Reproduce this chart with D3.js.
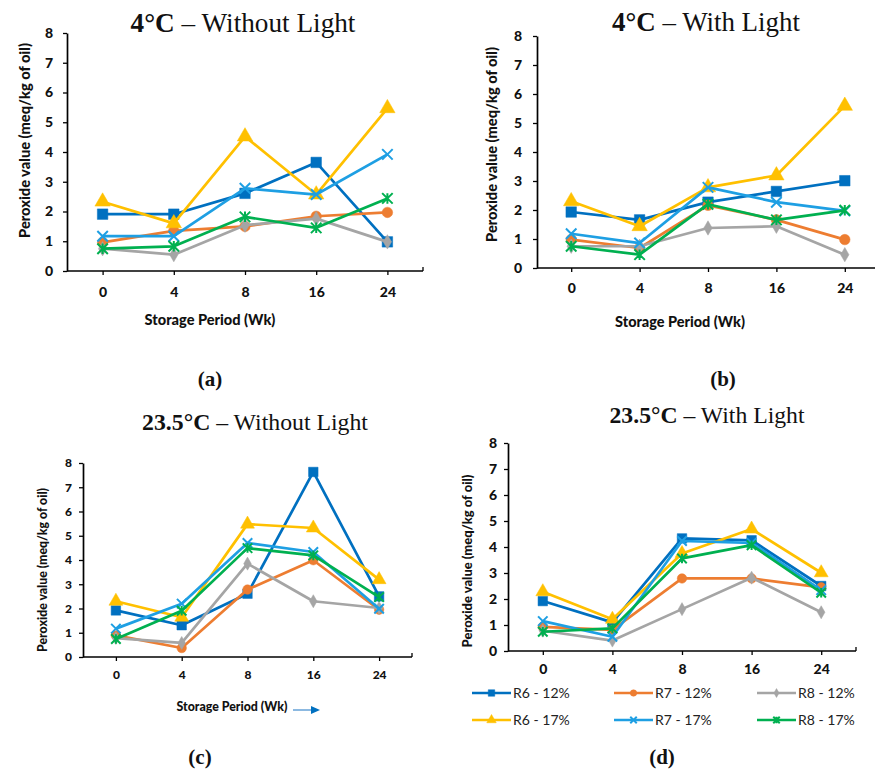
<!DOCTYPE html>
<html>
<head>
<meta charset="utf-8">
<script src="https://cdn.jsdelivr.net/npm/d3@7"></script>
<style>
  html, body { margin: 0; padding: 0; background: #fff; }
  svg { display: block; }
</style>
</head>
<body>
<svg id="chart" width="875" height="770"></svg>
<script>
// ---------------- DATA ----------------
const weeks = ["0", "4", "8", "16", "24"];
const yTicks = [0, 1, 2, 3, 4, 5, 6, 7, 8];
const seriesNames = ["R6 - 12%", "R7 - 12%", "R8 - 12%", "R6 - 17%", "R7 - 17%", "R8 - 17%"];

// Peroxide values (meq/kg of oil), one row per series in seriesNames order
const cold_noLight = [
  [1.91, 1.91, 2.61, 3.65, 0.98],
  [0.96, 1.35, 1.50, 1.84, 1.97],
  [0.75, 0.55, 1.54, 1.76, 0.98],
  [2.33, 1.60, 4.52, 2.57, 5.47],
  [1.17, 1.17, 2.78, 2.57, 3.92],
  [0.75, 0.83, 1.82, 1.45, 2.44]
];
const cold_light = [
  [1.93, 1.66, 2.27, 2.64, 3.01],
  [0.98, 0.69, 2.16, 1.66, 0.98],
  [0.75, 0.75, 1.38, 1.44, 0.46],
  [2.30, 1.44, 2.78, 3.19, 5.59],
  [1.18, 0.86, 2.78, 2.27, 1.97],
  [0.75, 0.46, 2.20, 1.66, 1.99]
];
const warm_noLight = [
  [1.92, 1.31, 2.61, 7.63, 2.50],
  [0.89, 0.37, 2.78, 3.99, 1.95],
  [0.78, 0.58, 3.85, 2.30, 2.02],
  [2.30, 1.64, 5.48, 5.32, 3.19],
  [1.17, 2.20, 4.70, 4.33, 1.99],
  [0.74, 1.91, 4.49, 4.19, 2.47]
];
const warm_light = [
  [1.92, 1.10, 4.33, 4.26, 2.50],
  [0.93, 0.81, 2.79, 2.79, 2.45],
  [0.78, 0.40, 1.61, 2.82, 1.49],
  [2.28, 1.22, 3.75, 4.69, 3.01],
  [1.15, 0.55, 4.23, 4.16, 2.34],
  [0.74, 0.87, 3.56, 4.07, 2.24]
];

const temps = ["4°C", "4°C", "23.5°C", "23.5°C"];
const lightTexts = [" – Without Light", " – With Light", " – Without Light", " – With Light"];
const panelLetters = ["(a)", "(b)", "(c)", "(d)"];
const yTitle = "Peroxide value (meq/kg of oil)";
const xTitle = "Storage Period (Wk)";

// ---------------- STYLE ----------------
const colors = ["#0070C0", "#ED7D31", "#A5A5A5", "#FFC000", "#1E9FE3", "#00B050"];
const markerTypes = ["square", "circle", "diamond", "triangle", "x", "star"];

// ---------------- LAYOUT ----------------
const panels = [
  { data: cold_noLight, left: 67, right: 423, top: 33, bottom: 271,
    titleX: 243, titleY: 32, titleW: 225, letterX: 210, letterY: 386,
    yTitleX: 25, yTitleY: 140.5, yTitleLen: 195,
    xTitleX: 210, xTitleY: 320, xTitleLen: 131,
    tickFont: 14, xLabOff: 21, yLabGap: 10, msize: 1.05 },
  { data: cold_light, left: 537, right: 879, top: 36, bottom: 268,
    titleX: 706, titleY: 31, titleW: 188, letterX: 723, letterY: 386,
    yTitleX: 492, yTitleY: 144.5, yTitleLen: 195,
    xTitleX: 680, xTitleY: 322, xTitleLen: 130,
    tickFont: 14, xLabOff: 20, yLabGap: 11, msize: 1.05 },
  { data: warm_noLight, left: 83, right: 412, top: 463, bottom: 657,
    titleX: 255, titleY: 430, titleW: 226, letterX: 200, letterY: 764,
    yTitleX: 43, yTitleY: 570, yTitleLen: 164,
    xTitleX: 232, xTitleY: 707, xTitleLen: 111,
    tickFont: 12, xLabOff: 18, yLabGap: 7, msize: 0.95, arrow: true },
  { data: warm_light, left: 508, right: 856, top: 443, bottom: 651,
    titleX: 707, titleY: 423, titleW: 195, letterX: 662, letterY: 764,
    yTitleX: 467, yTitleY: 561, yTitleLen: 173,
    xTitleX: null,
    tickFont: 14, xLabOff: 18, yLabGap: 7, msize: 0.95, legend: true }
];

const svg = d3.select("#chart");
const sansFont = "Lato, 'Open Sans', sans-serif";
const serifFont = "'Liberation Serif', 'DejaVu Serif', serif";

// scale a text's font size so it spans a target length
function fitText(sel, target, base) {
  const len = sel.node().getComputedTextLength();
  if (len > 0) sel.attr("font-size", base * target / len);
}

function markerPath(type, s) {
  switch (type) {
    case "square": return d3.symbol(d3.symbolSquare, s * s)();
    case "circle": return d3.symbol(d3.symbolCircle, Math.PI * (s / 2) * (s / 2))();
    case "diamond": return d3.symbol(d3.symbolDiamond, s * s * 0.45)();
    case "triangle": return d3.symbol(d3.symbolTriangle, s * s * 0.55)();
    case "x": { const h = s / 2; return `M${-h},${-h}L${h},${h}M${-h},${h}L${h},${-h}`; }
    case "star": { const h = s / 2; return `M${-h},${-h}L${h},${h}M${-h},${h}L${h},${-h}M0,${-h}L0,${h}`; }
  }
}
const baseSize = { square: 10, circle: 10, diamond: 11, triangle: 13, x: 10, star: 10 };

function drawMarker(g, type, color, x, y, scale) {
  const s = baseSize[type] * scale;
  const stroked = (type === "x" || type === "star");
  g.append("path")
    .attr("d", markerPath(type, s))
    .attr("transform", `translate(${x},${y})`)
    .attr("fill", stroked ? "none" : color)
    .attr("stroke", color)
    .attr("stroke-width", stroked ? 2 : 0.5);
}

panels.forEach((p, pi) => {
  const g = svg.append("g");
  const x = d3.scalePoint().domain(weeks).range([p.left, p.right]).padding(0.5);
  const y = d3.scaleLinear().domain([0, 8]).range([p.bottom, p.top]);

  // Y axis
  const ya = g.append("g")
    .attr("transform", `translate(${p.left},0)`)
    .call(d3.axisLeft(y).tickValues(yTicks).tickFormat(d3.format("d")).tickSize(4).tickSizeOuter(0).tickPadding(p.yLabGap));
  // X axis
  const xa = g.append("g")
    .attr("transform", `translate(0,${p.bottom})`)
    .call(d3.axisBottom(x).tickSize(4).tickSizeOuter(0)
      .tickPadding(p.xLabOff - 0.355 * p.tickFont - 4));
  xa.select(".domain").attr("d", `M${p.left},0H${p.right}`);
  xa.append("line").attr("x1", p.right).attr("x2", p.right).attr("y1", 0).attr("y2", -4)
    .attr("stroke", "#000").attr("stroke-width", 1.3);

  [ya, xa].forEach(a => {
    a.select(".domain").attr("stroke", "#000").attr("stroke-width", 1.7);
    a.selectAll(".tick line").attr("stroke", "#000").attr("stroke-width", 1.3);
    a.selectAll(".tick text").attr("font-family", sansFont).attr("font-weight", 900)
      .attr("font-size", p.tickFont).attr("fill", "#111");
  });

  // Series
  const line = d3.line().x((d, i) => x(weeks[i])).y(d => y(d));
  p.data.forEach((vals, si) => {
    const sg = g.append("g");
    sg.append("path").attr("d", line(vals)).attr("fill", "none")
      .attr("stroke", colors[si]).attr("stroke-width", 2.7).attr("stroke-linejoin", "round");
    vals.forEach((v, i) => drawMarker(sg, markerTypes[si], colors[si], x(weeks[i]), y(v), p.msize));
  });

  // Title
  const t = g.append("text").attr("x", p.titleX).attr("y", p.titleY)
    .attr("text-anchor", "middle").attr("font-family", serifFont).attr("font-size", 26).attr("fill", "#111");
  t.append("tspan").attr("font-weight", 700).text(temps[pi]);
  t.append("tspan").text(lightTexts[pi]);
  fitText(t, p.titleW, 26);

  // Y title
  const yt = g.append("text")
    .attr("transform", `translate(${p.yTitleX},${p.yTitleY}) rotate(-90)`)
    .attr("text-anchor", "middle").attr("dy", "0.35em")
    .attr("font-family", sansFont).attr("font-weight", 900).attr("font-size", 12).attr("fill", "#111")
    .text(yTitle);
  fitText(yt, p.yTitleLen, 12);

  // X title
  if (p.xTitleX !== null) {
    const xt = g.append("text").attr("x", p.xTitleX).attr("y", p.xTitleY)
      .attr("text-anchor", "middle").attr("dy", "0.35em")
      .attr("font-family", sansFont).attr("font-weight", 900).attr("font-size", 12).attr("fill", "#111")
      .text(xTitle);
    fitText(xt, p.xTitleLen, 12);
  }
  if (p.arrow) {
    const ax = p.xTitleX + 61, ay = p.xTitleY + 3;
    g.append("line").attr("x1", ax).attr("x2", ax + 20).attr("y1", ay).attr("y2", ay)
      .attr("stroke", "#5B9BD5").attr("stroke-width", 1.4);
    g.append("path").attr("d", `M${ax + 18},${ay - 4}L${ax + 27},${ay}L${ax + 18},${ay + 4}Z`).attr("fill", "#0070C0");
  }

  // Panel letter
  g.append("text").attr("x", p.letterX).attr("y", p.letterY).attr("text-anchor", "middle")
    .attr("font-family", serifFont).attr("font-weight", 700).attr("font-size", 21).attr("fill", "#111")
    .text(panelLetters[pi]);

  // Legend
  if (p.legend) {
    const cols = [472, 614, 757];
    const rows = [693, 720];
    seriesNames.forEach((name, si) => {
      const lx = cols[si % 3], ly = rows[Math.floor(si / 3)];
      const lg = g.append("g");
      lg.append("line").attr("x1", lx).attr("x2", lx + 39).attr("y1", ly).attr("y2", ly)
        .attr("stroke", colors[si]).attr("stroke-width", 2.6);
      drawMarker(lg, markerTypes[si], colors[si], lx + 19.5, ly, 0.65);
      lg.append("text").attr("x", lx + 41).attr("y", ly).attr("dy", "0.35em")
        .attr("font-family", sansFont).attr("font-size", 14).attr("fill", "#222").text(name);
    });
  }
});
</script>
</body>
</html>
